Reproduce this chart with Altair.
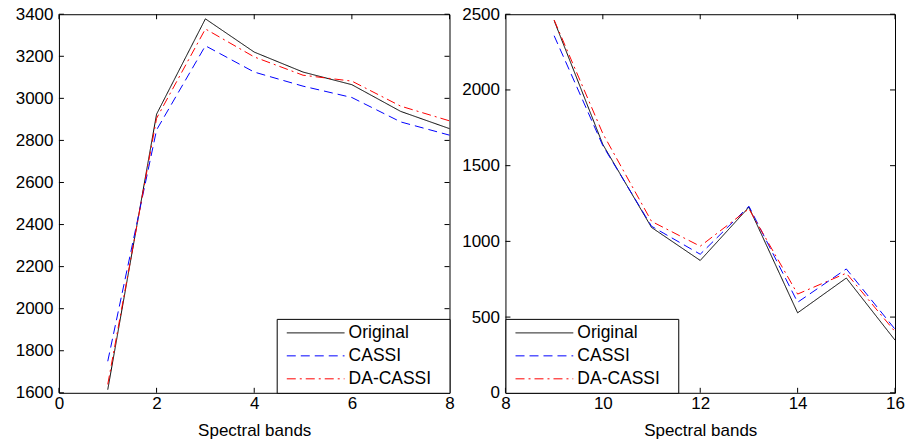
import altair as alt
import pandas as pd

FONT = "Liberation Sans"
SERIES = ["Original", "CASSI", "DA-CASSI"]
COLORS = ["#000000", "#0000ff", "#ff0000"]
DASHES = [[1, 0], [9, 5], [9, 4, 2, 4]]

# Bands 1-8
BANDS_A = [1, 2, 3, 4, 5, 6, 7, 8]
ORIGINAL_A = [1615, 2925, 3378, 3220, 3125, 3065, 2938, 2856]
CASSI_A = [1750, 2850, 3250, 3125, 3058, 3004, 2888, 2825]
DA_CASSI_A = [1640, 2905, 3330, 3197, 3110, 3082, 2963, 2893]
X_TICKS_A = [0, 2, 4, 6, 8]
Y_TICKS_A = [1600, 1800, 2000, 2200, 2400, 2600, 2800, 3000, 3200, 3400]

# Bands 9-16
BANDS_B = [9, 10, 11, 12, 13, 14, 15, 16]
ORIGINAL_B = [2458, 1640, 1092, 874, 1226, 528, 758, 348]
CASSI_B = [2358, 1632, 1100, 915, 1232, 598, 818, 420]
DA_CASSI_B = [2462, 1712, 1132, 968, 1215, 652, 790, 404]
X_TICKS_B = [8, 10, 12, 14, 16]
Y_TICKS_B = [0, 500, 1000, 1500, 2000, 2500]

TICK_LEN = 5
# legend sample line: a custom path in symbol units (scaled by sqrt(size)/2)
LEGEND_LINE = "M-3.4,0H3.4"


def long_table(bands, orig, cassi, da):
    rows = []
    for name, vals in zip(SERIES, [orig, cassi, da]):
        for b, v in zip(bands, vals):
            rows.append({"band": b, "value": v, "series": name})
    return pd.DataFrame(rows)


def panel(bands, orig, cassi, da, xdom, ydom, xticks, yticks, legend_orient, w, h):
    df = long_table(bands, orig, cassi, da)
    xs = alt.Scale(domain=xdom, nice=False, zero=False)
    ys = alt.Scale(domain=ydom, nice=False, zero=False)
    legend = alt.Legend(
        title=None, orient=legend_orient, offset=0,
        fillColor="white", strokeColor="black", padding=5,
        symbolType=LEGEND_LINE, symbolSize=289, symbolStrokeWidth=1,
        symbolOffset=25, labelOffset=24,
        labelFont=FONT, labelFontSize=17.5, labelColor="black",
        # blank trailing cell keeps a right margin inside the legend frame
        labelExpr="datum.label + '\u2800'",
        rowPadding=5,
    )
    lines = alt.Chart(df).mark_line(strokeWidth=1).encode(
        x=alt.X("band:Q", scale=xs, axis=alt.Axis(
            values=xticks, format="d", title="Spectral bands", grid=False,
            domain=False, ticks=False, tickSize=0, labelFlush=False,
            labelFont=FONT, labelFontSize=17, labelColor="black",
            labelPadding=3, titleFont=FONT, titleFontSize=17,
            titleFontWeight="normal", titleColor="black", titlePadding=11)),
        y=alt.Y("value:Q", scale=ys, axis=alt.Axis(
            values=yticks, format="d", title=None, grid=False, domain=False,
            ticks=False, tickSize=0, labelFont=FONT, labelFontSize=17,
            labelColor="black", labelPadding=6)),
        color=alt.Color("series:N", scale=alt.Scale(domain=SERIES, range=COLORS), legend=legend),
        strokeDash=alt.StrokeDash("series:N", scale=alt.Scale(domain=SERIES, range=DASHES), legend=legend),
        order=alt.Order("band:Q"),
    )
    ydf = pd.DataFrame({"v": yticks})
    xdf = pd.DataFrame({"v": xticks})
    rule = dict(color="black", strokeWidth=1)
    y_left = alt.Chart(ydf).mark_rule(**rule).encode(
        y=alt.Y("v:Q", scale=ys), x=alt.value(0), x2=alt.value(TICK_LEN))
    y_right = alt.Chart(ydf).mark_rule(**rule).encode(
        y=alt.Y("v:Q", scale=ys), x=alt.value(w - TICK_LEN), x2=alt.value(w))
    x_top = alt.Chart(xdf).mark_rule(**rule).encode(
        x=alt.X("v:Q", scale=xs), y=alt.value(0), y2=alt.value(TICK_LEN))
    x_bot = alt.Chart(xdf).mark_rule(**rule).encode(
        x=alt.X("v:Q", scale=xs), y=alt.value(h - TICK_LEN), y2=alt.value(h))
    return alt.layer(y_left, y_right, x_top, x_bot, lines).properties(width=w, height=h)


left = panel(BANDS_A, ORIGINAL_A, CASSI_A, DA_CASSI_A, [0, 8], [1600, 3400],
             X_TICKS_A, Y_TICKS_A, "bottom-right", 391, 379)
right = panel(BANDS_B, ORIGINAL_B, CASSI_B, DA_CASSI_B, [8, 16], [0, 2500],
              X_TICKS_B, Y_TICKS_B, "bottom-left", 390, 379)

chart = alt.hconcat(left, right, spacing=5).resolve_scale(
    color="independent", strokeDash="independent"
).resolve_legend(
    color="independent", strokeDash="independent"
).properties(
    padding={"left": 14, "top": 4, "right": 0, "bottom": 0},
    background="white",
).configure_view(stroke="black", strokeWidth=1)

chart.save("out.html", embed_options={"renderer": "svg", "actions": False})
